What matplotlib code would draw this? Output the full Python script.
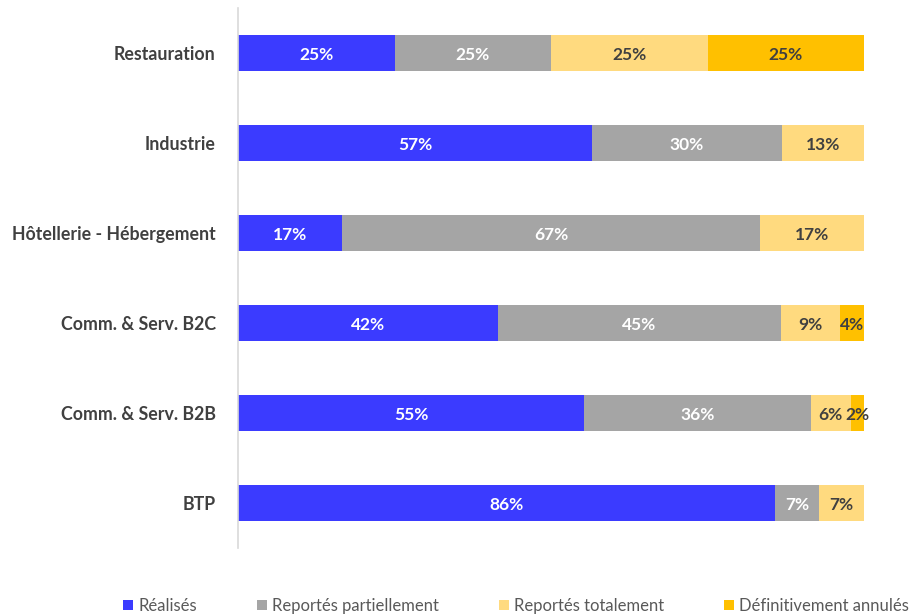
import numpy as np
import matplotlib
matplotlib.use('Agg')
import matplotlib.pyplot as plt
from matplotlib.patches import Patch

categories = ["Restauration", "Industrie", "Hôtellerie - Hébergement",
              "Comm. & Serv. B2C", "Comm. & Serv. B2B", "BTP"]
series = ["Réalisés", "Reportés partiellement", "Reportés totalement", "Définitivement annulés"]

# shares in %
realises = [25.0, 56.52, 16.67, 41.51, 55.32, 85.71]
rep_part = [25.0, 30.43, 66.67, 45.28, 36.17, 7.14]
rep_tot = [25.0, 13.04, 16.67, 9.43, 6.38, 7.14]
annules = [25.0, 0.0, 0.0, 3.77, 2.13, 0.0]

colors = ["#3B3BFF", "#A5A5A5", "#FFDA7F", "#FFC000"]
txt_colors = ["white", "white", "#404040", "#404040"]

plt.rcParams['font.family'] = ['Lato', 'DejaVu Sans']

fig = plt.figure(figsize=(9.18, 6.15), dpi=100)
ax = fig.add_axes([238/918, (615-548)/615, (864-238)/918, 540/615])

y = np.arange(len(categories))
left = np.zeros(len(categories))
for vals, c, tc in zip([realises, rep_part, rep_tot, annules], colors, txt_colors):
    vals = np.array(vals)
    ax.barh(y, vals, left=left, height=0.4, color=c, edgecolor='none')
    for yi, l, v in zip(y, left, vals):
        if v > 0:
            ax.text(l + v/2, yi + 0.02, f"{v:.0f}%", ha='center', va='center',
                    color=tc, fontsize=12.5, fontweight='bold')
    left += vals

ax.set_xlim(0, 100)
ax.set_ylim(len(categories) - 0.5, -0.5)
ax.set_yticks(y)
ax.set_yticklabels(categories, fontsize=12.8, fontweight='bold', color='#404040')
ax.tick_params(axis='y', length=0, pad=16)
ax.set_xticks([])
for s in ['top', 'right', 'bottom']:
    ax.spines[s].set_visible(False)
ax.spines['left'].set_color('#D9D9D9')
ax.spines['left'].set_linewidth(1.2)

handles = [Patch(facecolor=c, edgecolor='none') for c in colors]
fig.legend(handles, series, loc='center left', bbox_to_anchor=(108/918, 1 - 606/615),
           ncol=4, frameon=False, fontsize=12, labelcolor='#595959',
           handlelength=0.6, handleheight=0.6, handletextpad=0.3, columnspacing=3.6)

fig.savefig('out.png', dpi=100)
